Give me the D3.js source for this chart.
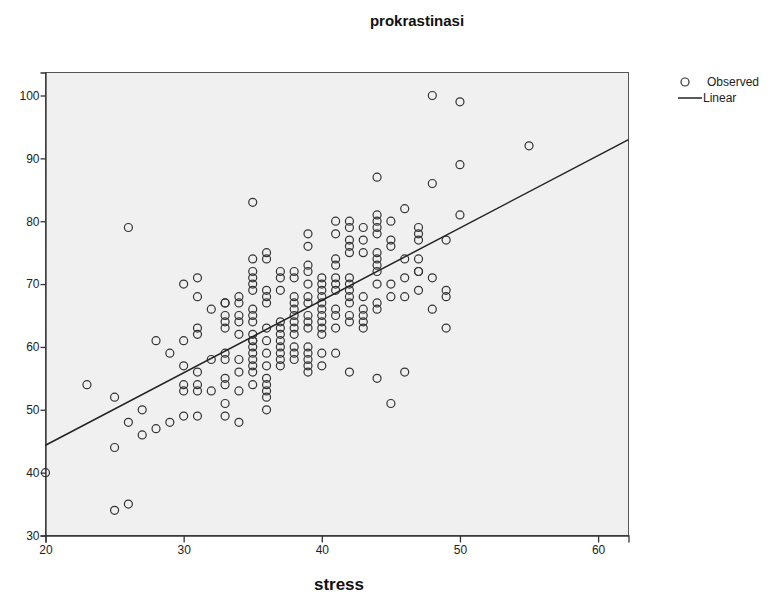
<!DOCTYPE html>
<html>
<head>
<meta charset="utf-8">
<script src="https://cdn.jsdelivr.net/npm/d3@7"></script>
<style>
  body { margin: 0; background: #fff; }
  text { font-family: "Liberation Sans", Arial, sans-serif; }
</style>
</head>
<body>
<script>
// stress values (x) and the prokrastinasi scores observed at each one (y)
var stressLevels = [20, 23, 25, 26, 27, 28, 29, 30, 31, 32, 33, 34, 35, 36, 37, 38, 39, 40,
                    41, 42, 43, 44, 45, 46, 47, 48, 49, 50, 55];
var prokrastinasiByStress = [
  [40],
  [54],
  [52, 44, 34],
  [79, 48, 35],
  [50, 46],
  [61, 47],
  [59, 48],
  [70, 61, 57, 54, 53, 49],
  [71, 68, 63, 62, 56, 54, 53, 49],
  [66, 58, 53],
  [67, 67, 65, 64, 63, 59, 58, 55, 54, 51, 49],
  [68, 67, 65, 64, 62, 58, 56, 53, 48],
  [83, 74, 72, 71, 70, 69, 66, 65, 64, 62, 61, 61, 60, 59, 58, 57, 56, 54],
  [75, 74, 69, 68, 67, 63, 61, 59, 57, 55, 54, 53, 52, 50],
  [72, 71, 69, 64, 63, 62, 61, 60, 59, 58, 57],
  [72, 71, 68, 67, 66, 65, 64, 63, 62, 60, 59, 58],
  [78, 76, 73, 72, 70, 68, 67, 65, 64, 63, 60, 59, 58, 57, 56],
  [71, 70, 69, 68, 67, 66, 65, 64, 63, 62, 59, 57],
  [80, 78, 74, 73, 71, 70, 69, 66, 65, 63, 59],
  [80, 79, 77, 76, 75, 71, 70, 69, 68, 67, 65, 64, 56],
  [79, 77, 75, 68, 66, 65, 64, 63],
  [87, 81, 80, 79, 78, 75, 74, 73, 72, 70, 67, 66, 55],
  [80, 77, 76, 70, 68, 51],
  [82, 74, 71, 68, 56],
  [79, 78, 77, 74, 72, 72, 69],
  [100, 86, 71, 66],
  [77, 69, 68, 63],
  [99, 89, 81],
  [92]
];
var xTicks = [20, 30, 40, 50, 60];
var yTicks = [30, 40, 50, 60, 70, 80, 90, 100];
var legendLabels = ["Observed", "Linear"];

var points = [];
stressLevels.forEach(function(s, i) {
  prokrastinasiByStress[i].forEach(function(p) { points.push({x: s, y: p}); });
});

// least squares fit for the linear line
var mx = d3.mean(points, d => d.x), my = d3.mean(points, d => d.y);
var sxy = d3.sum(points, d => (d.x - mx) * (d.y - my));
var sxx = d3.sum(points, d => (d.x - mx) * (d.x - mx));
var slope = sxy / sxx, intercept = my - slope * mx;

var width = 773, height = 597;
var plot = {left: 45.5, right: 628.5, top: 72.5, bottom: 535.5};

var svg = d3.select("body").append("svg")
  .attr("width", width)
  .attr("height", height);

var x = d3.scaleLinear().domain([20, 62.2]).range([plot.left, plot.right]);
var y = d3.scaleLinear().domain([30, 103.66]).range([plot.bottom, plot.top]);

svg.append("rect")
  .attr("x", plot.left).attr("y", plot.top)
  .attr("width", plot.right - plot.left).attr("height", plot.bottom - plot.top)
  .attr("fill", "#f0f0f0")
  .attr("stroke", "#555")
  .attr("stroke-width", 1);

// axes
var xAxis = svg.append("g")
  .attr("transform", "translate(0," + plot.bottom + ")")
  .call(d3.axisBottom(x).tickValues(xTicks).tickSize(7).tickPadding(3).tickFormat(d3.format("d")));
var yAxis = svg.append("g")
  .attr("transform", "translate(" + plot.left + ",0)")
  .call(d3.axisLeft(y).tickValues(yTicks).tickSize(5).tickPadding(1).tickFormat(d3.format("d")));
[xAxis, yAxis].forEach(function(a) {
  a.select(".domain").attr("stroke", "#333").attr("stroke-width", 1.3);
  a.selectAll(".tick line").attr("stroke", "#333").attr("stroke-width", 1.3);
  a.selectAll(".tick text").attr("fill", "#222").style("font-size", "12px")
    .style("font-family", "'Liberation Sans', Arial, sans-serif");
});

// observed points
svg.append("g").selectAll("circle")
  .data(points)
  .join("circle")
  .attr("cx", d => x(d.x))
  .attr("cy", d => y(d.y))
  .attr("r", 4)
  .attr("fill", "none")
  .attr("stroke", "#333")
  .attr("stroke-width", 1.2);

// linear fit
var xd = x.domain();
svg.append("line")
  .attr("x1", x(xd[0])).attr("y1", y(intercept + slope * xd[0]))
  .attr("x2", x(xd[1])).attr("y2", y(intercept + slope * xd[1]))
  .attr("stroke", "#222")
  .attr("stroke-width", 1.5);

// titles
svg.append("text")
  .attr("x", 417).attr("y", 26)
  .attr("text-anchor", "middle")
  .style("font-size", "15px").style("font-weight", "bold")
  .attr("fill", "#111")
  .text("prokrastinasi");
svg.append("text")
  .attr("x", 339).attr("y", 590)
  .attr("text-anchor", "middle")
  .style("font-size", "17px").style("font-weight", "bold")
  .attr("fill", "#111")
  .text("stress");

// legend
var legend = svg.append("g");
legend.append("circle")
  .attr("cx", 685).attr("cy", 82).attr("r", 4)
  .attr("fill", "none").attr("stroke", "#333").attr("stroke-width", 1.2);
legend.append("text").attr("x", 707).attr("y", 86)
  .style("font-size", "12px").attr("fill", "#222").text(legendLabels[0]);
legend.append("line")
  .attr("x1", 678).attr("x2", 702).attr("y1", 98).attr("y2", 98)
  .attr("stroke", "#222").attr("stroke-width", 1.5);
legend.append("text").attr("x", 703).attr("y", 102)
  .style("font-size", "12px").attr("fill", "#222").text(legendLabels[1]);
</script>
</body>
</html>
